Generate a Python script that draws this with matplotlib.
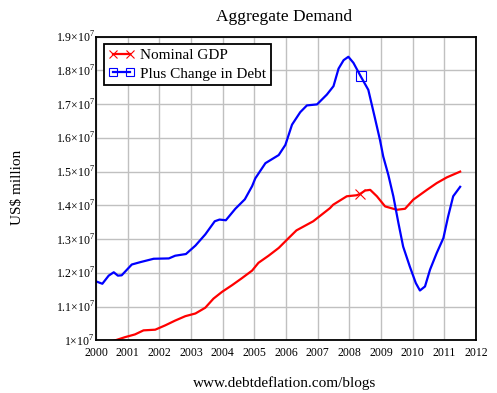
import numpy as np
import matplotlib.pyplot as plt
from matplotlib.lines import Line2D

plt.rcParams['font.family'] = 'Liberation Serif'
plt.rcParams['mathtext.fontset'] = 'custom'
plt.rcParams['mathtext.rm'] = 'Liberation Serif'

# Nominal GDP (US$ million)
gdp_year = [2000.0, 2000.56, 2000.92, 2001.23, 2001.5, 2001.87, 2002.19, 2002.5,
            2002.82, 2003.14, 2003.45, 2003.71, 2003.98, 2004.3, 2004.6, 2004.93,
            2005.13, 2005.45, 2005.77, 2006.08, 2006.33, 2006.86, 2007.39, 2007.49,
            2007.92, 2008.23, 2008.34, 2008.5, 2008.66, 2008.87, 2009.13, 2009.5,
            2009.76, 2010.02, 2010.45, 2010.76, 2011.08, 2011.5]
gdp = [0.985, 0.999, 1.01, 1.018, 1.03, 1.032, 1.045, 1.059,
       1.072, 1.08, 1.097, 1.124, 1.144, 1.164, 1.184, 1.207,
       1.23, 1.251, 1.274, 1.303, 1.326, 1.353, 1.392, 1.402,
       1.427, 1.43, 1.434, 1.444, 1.446, 1.427, 1.397, 1.387,
       1.39, 1.417, 1.446, 1.466, 1.483, 1.50]

# Nominal GDP plus change in debt
debt_year = [2000.0, 2000.2, 2000.4, 2000.56, 2000.69, 2000.81, 2001.13, 2001.4,
             2001.82, 2002.3, 2002.5, 2002.84, 2003.14, 2003.45, 2003.75, 2003.9,
             2004.1, 2004.4, 2004.7, 2004.93, 2005.03, 2005.35, 2005.77, 2005.98,
             2006.19, 2006.45, 2006.66, 2006.98, 2007.29, 2007.5, 2007.66, 2007.82,
             2007.97, 2008.13, 2008.36, 2008.6, 2008.8, 2008.97, 2009.07, 2009.23,
             2009.39, 2009.55, 2009.7, 2009.91, 2010.1, 2010.23, 2010.39, 2010.55,
             2010.76, 2010.97, 2011.12, 2011.28, 2011.5]
debt = [1.175, 1.168, 1.192, 1.202, 1.192, 1.193, 1.225, 1.232,
        1.242, 1.243, 1.251, 1.256, 1.281, 1.314, 1.353, 1.358,
        1.356, 1.39, 1.418, 1.457, 1.48, 1.525, 1.549, 1.579,
        1.639, 1.676, 1.696, 1.699, 1.728, 1.753, 1.805, 1.83,
        1.84, 1.822, 1.782, 1.742, 1.662, 1.593, 1.545, 1.491,
        1.427, 1.348, 1.278, 1.219, 1.17, 1.148, 1.16, 1.21,
        1.259, 1.303, 1.367, 1.427, 1.455]

gdp = np.array(gdp) * 1e7
debt = np.array(debt) * 1e7

fig = plt.figure(figsize=(4.97, 3.93), dpi=100)
ax = fig.add_axes([0.1932, 0.1336, 0.7645, 0.7735])

# one marker on each curve, like the original
ax.plot(gdp_year, gdp, color='red', lw=1.6, marker='x', ms=7, mew=0.8,
        markevery=[26])
ax.plot(debt_year, debt, color='blue', lw=1.6, marker='s', ms=7, mew=0.8,
        mfc='none', markevery=[34])

ax.set_xlim(2000, 2012)
ax.set_ylim(1.0e7, 1.9e7)
ax.set_xticks(range(2000, 2013))
yt = np.arange(10, 20) / 10
ax.set_yticks(yt * 1e7)
ylabels = ['1×10$^{7}$' if v == 1.0 else '%.1f×10$^{7}$' % v for v in yt]
ax.set_yticklabels(ylabels)
ax.tick_params(length=0, labelsize=8.5)
ax.tick_params(axis='x', pad=5)
ax.tick_params(axis='y', pad=1)
ax.grid(True, color='#c0c0c0', lw=1)
ax.set_axisbelow(True)
for s in ax.spines.values():
    s.set_linewidth(1.3)

handles = [Line2D([0], [0], color='red', lw=1.6, marker='x', ms=6, mew=0.8),
           Line2D([0], [0], color='blue', lw=1.6, marker='s', ms=6, mew=0.8, mfc='none')]
leg = ax.legend(handles, ['Nominal GDP', 'Plus Change in Debt'], loc='upper left',
                numpoints=2, fontsize=11, fancybox=False, framealpha=1,
                edgecolor='black', borderpad=0.3, handlelength=1.7,
                handletextpad=0.4, labelspacing=0.3, borderaxespad=0.5)
leg.get_frame().set_linewidth(1.3)

fig.text(0.572, 0.956, 'Aggregate Demand', ha='center', va='center', fontsize=12.5)
fig.text(0.036, 0.524, 'US$ million', rotation=90, ha='center', va='center', fontsize=11)
fig.text(0.572, 0.025, 'www.debtdeflation.com/blogs', ha='center', va='center', fontsize=11)

fig.savefig('out.png', dpi=100)
